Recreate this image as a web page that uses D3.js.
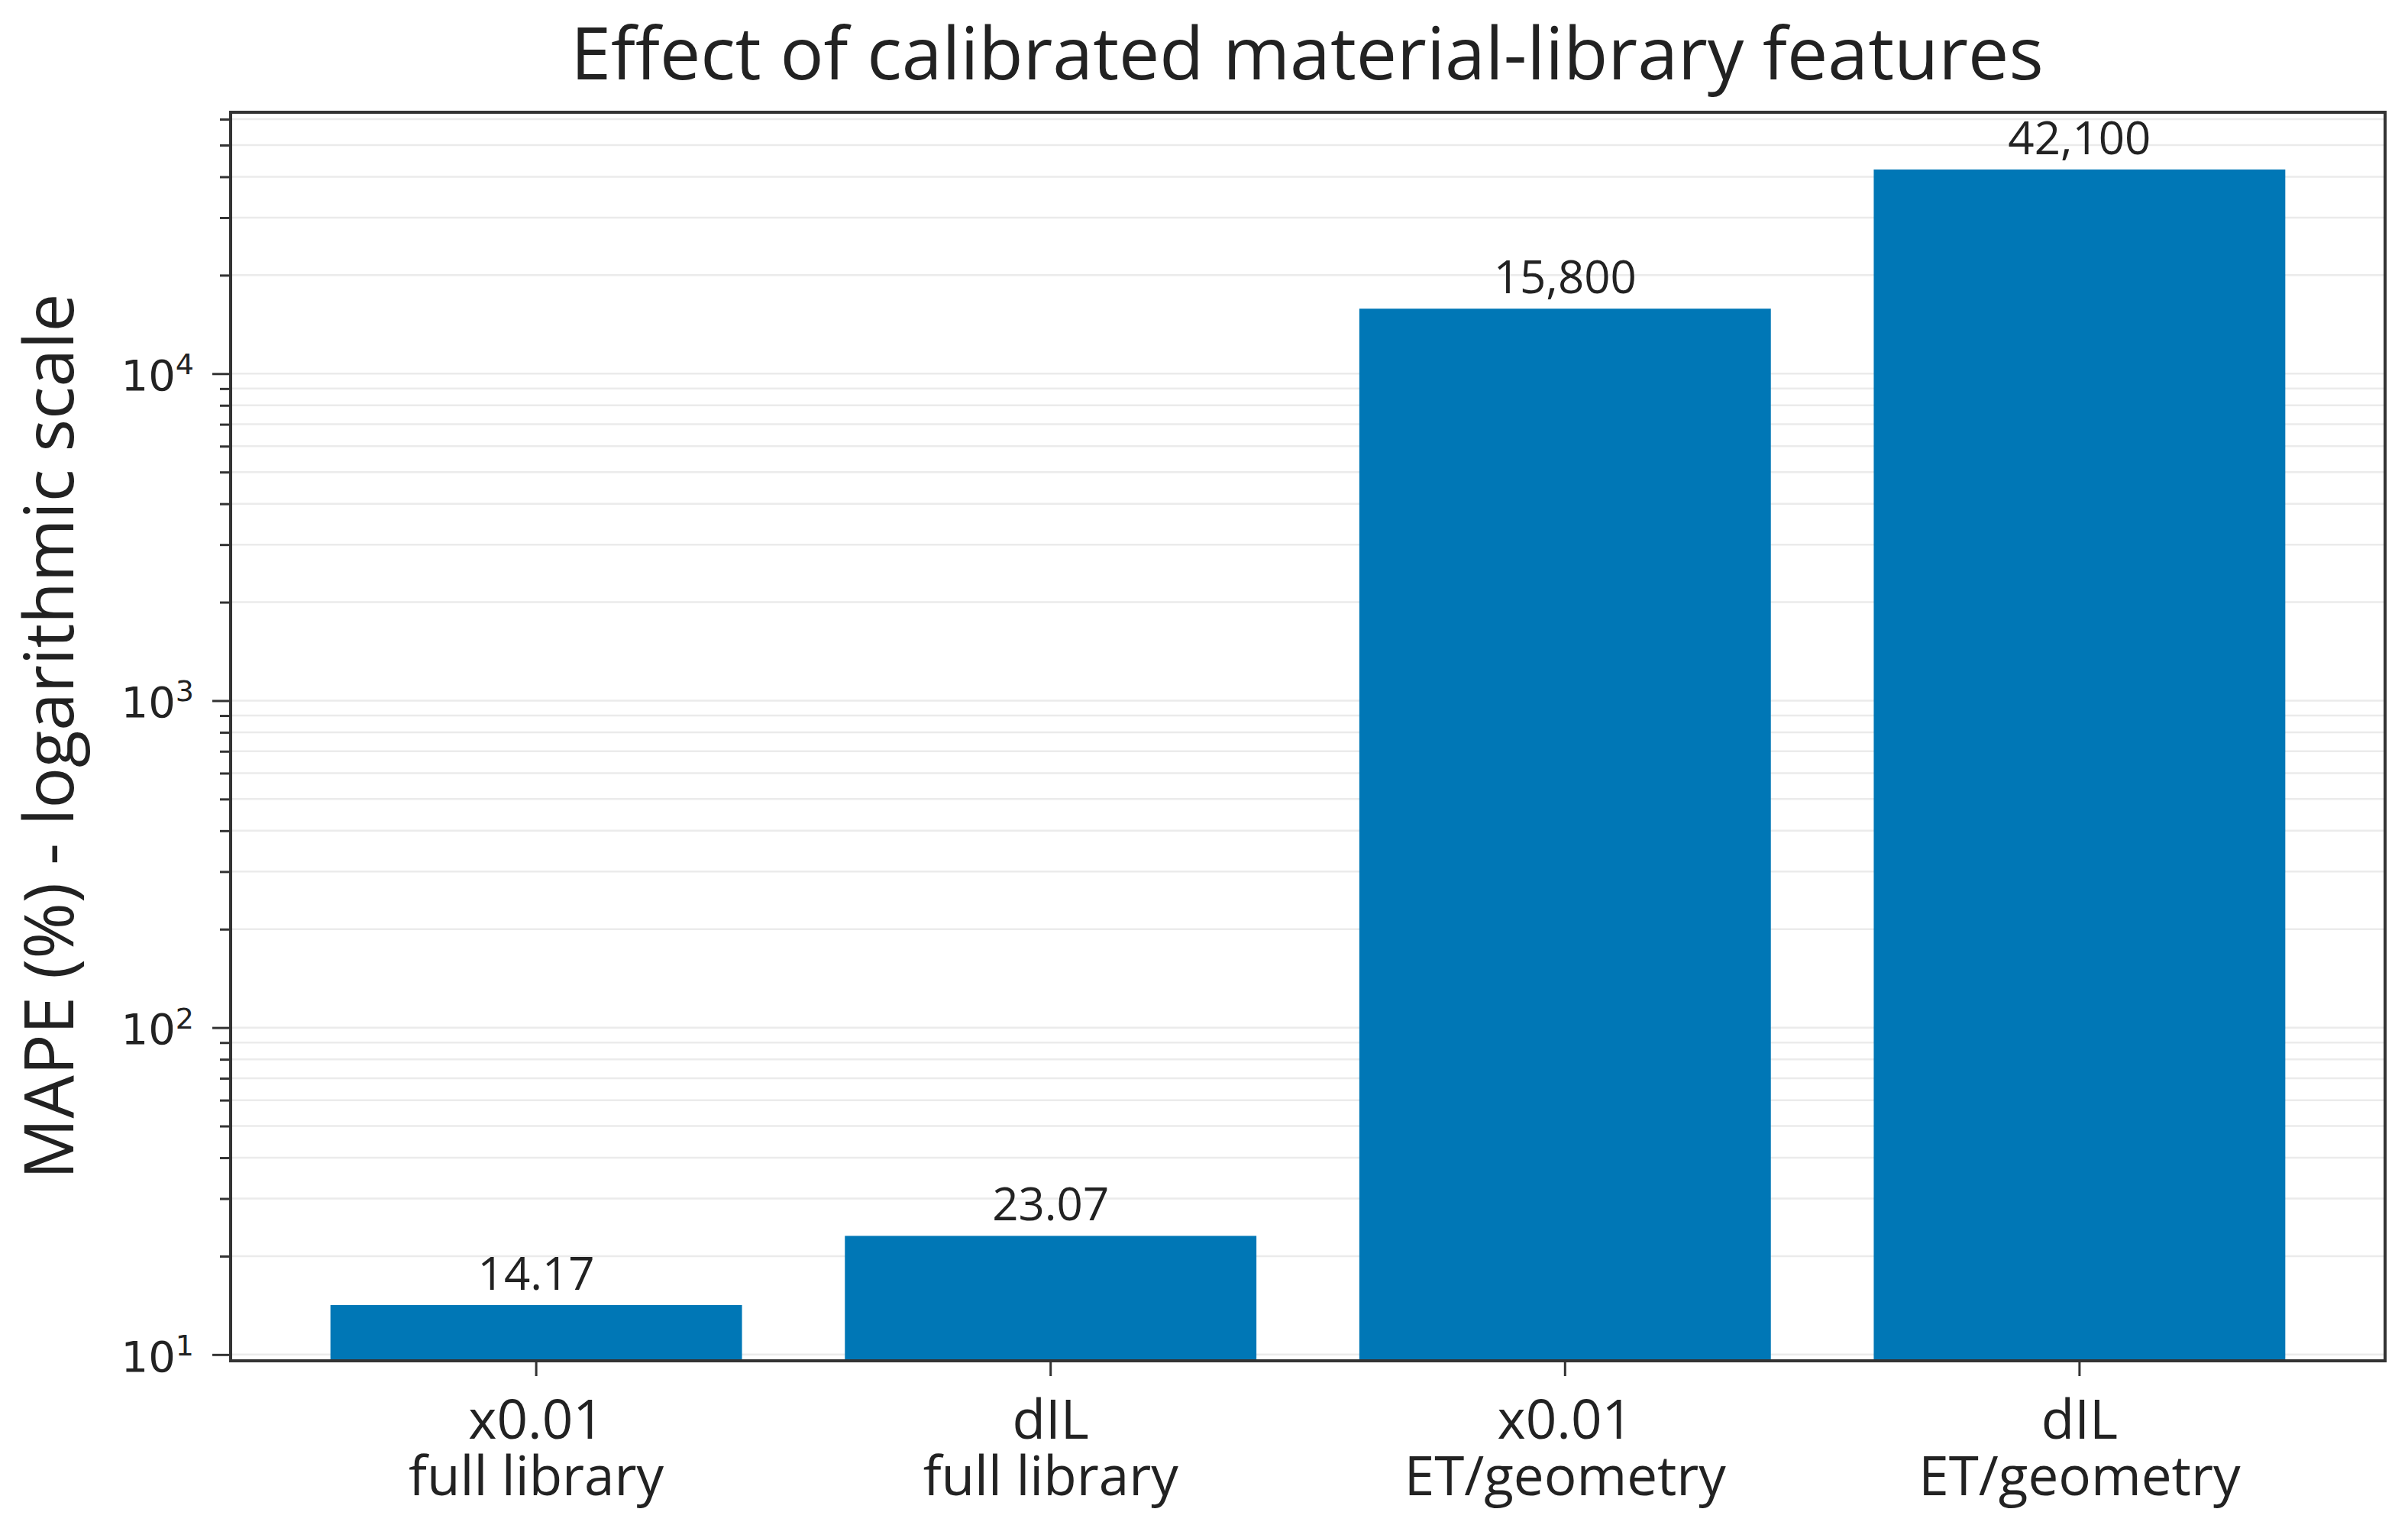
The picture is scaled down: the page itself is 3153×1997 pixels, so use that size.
<!DOCTYPE html>
<html>
<head>
<meta charset="utf-8">
<script src="https://cdn.jsdelivr.net/npm/d3@7"></script>
<style>
body {
  margin: 0;
  background: white;
}
.chart text {
  fill: #222;
}
</style>
</head>
<body>
<div class="chart"></div>

<script>

// chart data
var methods = ["x0.01", "dIL", "x0.01", "dIL"];
var scopes = ["full library", "full library", "ET/geometry", "ET/geometry"];
var mape = [14.17, 23.07, 15800, 42100];
var mapeLabels = ["14.17", "23.07", "15,800", "42,100"];
var majorTicks = [10, 100, 1000, 10000];

var width = 3153,
    height = 1997,
    plotLeft = 302,
    plotRight = 3123,
    plotTop = 147,
    plotBottom = 1782;

var textFont = "'Open Sans', 'Noto Sans', sans-serif";

var canvas = d3.select(".chart")
  .append("svg")
  .attr("width", width)
  .attr("height", height)
  .style("background-color", "white");

var keys = methods.map(function(m, i) { return i; });

var x = d3.scaleBand()
  .domain(keys)
  .range([plotLeft, plotRight])
  .paddingInner(0.2)
  .paddingOuter(0.194);

var y = d3.scaleLog()
  .domain([9.57, 63000])
  .range([plotBottom, plotTop]);

// minor + major values for grid lines
var gridVals = [];
[1, 10, 100, 1000, 10000].forEach(function(dec) {
  for (var k = 1; k <= 9; k++) {
    var v = dec * k;
    if (v >= y.domain()[0] && v <= y.domain()[1]) gridVals.push(v);
  }
});
var minorVals = gridVals.filter(function(v) { return majorTicks.indexOf(v) < 0; });

canvas.append("g")
  .selectAll("line")
  .data(gridVals)
  .enter().append("line")
  .attr("x1", plotLeft)
  .attr("x2", plotRight)
  .attr("y1", function(d) { return y(d); })
  .attr("y2", function(d) { return y(d); })
  .attr("stroke", "#ebebeb")
  .attr("stroke-width", 2.5);

// bars
canvas.append("g")
  .selectAll("rect")
  .data(mape)
  .enter().append("rect")
  .attr("x", function(d, i) { return x(i); })
  .attr("width", x.bandwidth())
  .attr("y", function(d) { return y(d); })
  .attr("height", function(d) { return plotBottom - y(d); })
  .attr("fill", "#0077b6");

// value labels
canvas.append("g")
  .selectAll("text")
  .data(mape)
  .enter().append("text")
  .attr("x", function(d, i) { return x(i) + x.bandwidth() / 2; })
  .attr("y", function(d) { return y(d) - 20; })
  .attr("text-anchor", "middle")
  .style("font-family", textFont)
  .style("font-size", "60px")
  .text(function(d, i) { return mapeLabels[i]; });

// y axis, major ticks
var yAxis = canvas.append("g")
  .attr("transform", "translate(" + plotLeft + ",0)")
  .call(d3.axisLeft(y).tickValues(majorTicks).tickSize(24).tickPadding(24));

yAxis.selectAll(".tick text")
  .text("")
  .style("font-family", "'DejaVu Sans', sans-serif")
  .style("font-size", "56px")
  .attr("dy", "0.38em")
  .each(function(d) {
    var t = d3.select(this);
    t.append("tspan").text("10");
    t.append("tspan")
      .attr("dy", "-0.55em")
      .style("font-size", "38px")
      .text(Math.round(Math.log10(d)));
  });

// y axis, minor ticks
var yMinor = canvas.append("g")
  .attr("transform", "translate(" + plotLeft + ",0)")
  .call(d3.axisLeft(y).tickValues(minorVals).tickSize(14).tickFormat(""));

[yAxis, yMinor].forEach(function(g) {
  g.select(".domain").remove();
  g.selectAll(".tick line").attr("stroke", "#333").attr("stroke-width", 3);
});

// x axis
var xAxis = canvas.append("g")
  .attr("transform", "translate(0," + plotBottom + ")")
  .call(d3.axisBottom(x).tickSize(20).tickFormat(""));

xAxis.select(".domain").remove();
xAxis.selectAll(".tick line").attr("stroke", "#333").attr("stroke-width", 3);

// two-line category labels
xAxis.selectAll(".tick")
  .append("text")
  .attr("text-anchor", "middle")
  .attr("y", 102)
  .style("font-family", textFont)
  .style("font-size", "71px")
  .text(function(d) { return methods[d]; });

xAxis.selectAll(".tick")
  .append("text")
  .attr("text-anchor", "middle")
  .attr("y", 176)
  .style("font-family", textFont)
  .style("font-size", "71px")
  .text(function(d) { return scopes[d]; });

// frame
canvas.append("rect")
  .attr("x", plotLeft)
  .attr("y", plotTop)
  .attr("width", plotRight - plotLeft)
  .attr("height", plotBottom - plotTop)
  .attr("fill", "none")
  .attr("stroke", "#333")
  .attr("stroke-width", 4);

// title
canvas.append("text")
  .attr("x", (plotLeft + plotRight) / 2 - 1)
  .attr("y", 104)
  .attr("text-anchor", "middle")
  .style("font-family", textFont)
  .style("font-size", "95px")
  .text("Effect of calibrated material-library features");

// y label
canvas.append("text")
  .attr("transform", "translate(96," + (plotTop + plotBottom) / 2 + ") rotate(-90)")
  .attr("text-anchor", "middle")
  .style("font-family", textFont)
  .style("font-size", "89px")
  .text("MAPE (%) - logarithmic scale");

</script>
</body>
</html>
